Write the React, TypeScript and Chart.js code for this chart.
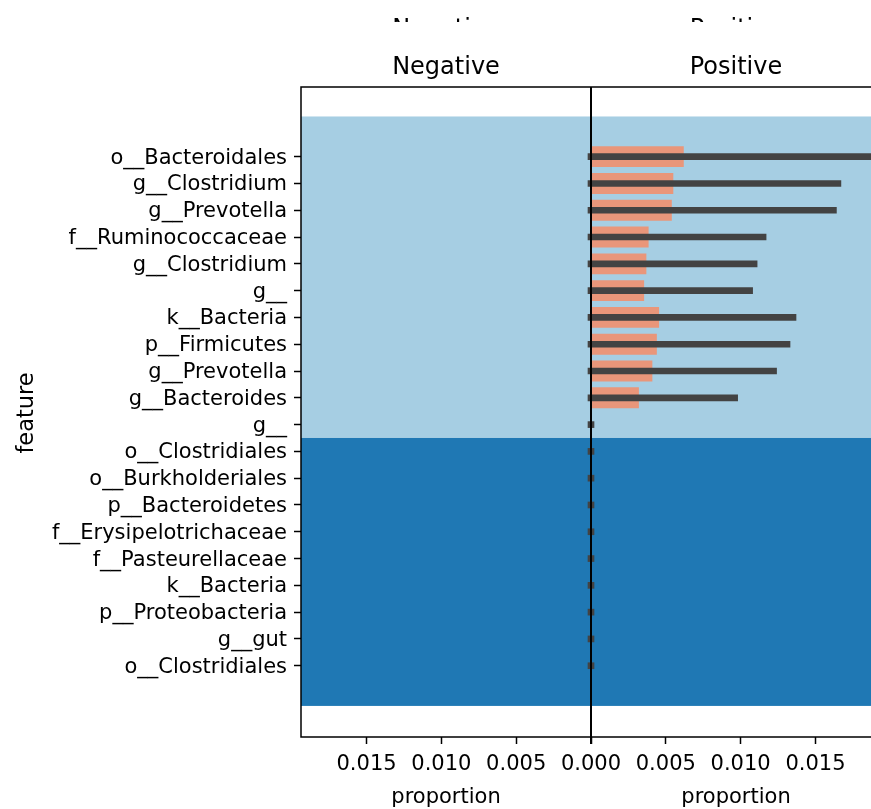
import React, { useEffect, useRef } from 'react';
import { Chart, registerables } from 'chart.js';

Chart.register(...registerables);

const FEATURES = [
  'o__Bacteroidales',
  'g__Clostridium',
  'g__Prevotella',
  'f__Ruminococcaceae',
  'g__Clostridium',
  'g__',
  'k__Bacteria',
  'p__Firmicutes',
  'g__Prevotella',
  'g__Bacteroides',
  'g__',
  'o__Clostridiales',
  'o__Burkholderiales',
  'p__Bacteroidetes',
  'f__Erysipelotrichaceae',
  'f__Pasteurellaceae',
  'k__Bacteria',
  'p__Proteobacteria',
  'g__gut',
  'o__Clostridiales',
];

const MEAN_POSITIVE = [
  0.0062, 0.0055, 0.0054, 0.00385, 0.0037, 0.00355, 0.00455, 0.0044, 0.0041, 0.0032,
  0, 0, 0, 0, 0, 0, 0, 0, 0, 0,
];

const CI_LOW = [
  -0.0002, -0.0002, -0.0002, -0.0002, -0.0002, -0.0002, -0.0002, -0.0002, -0.0002, -0.0002,
  -0.0002, -0.0002, -0.0002, -0.0002, -0.0002, -0.0002, -0.0002, -0.0002, -0.0002, -0.0002,
];

const CI_HIGH = [
  0.019, 0.0167, 0.0164, 0.0117, 0.0111, 0.0108, 0.0137, 0.0133, 0.0124, 0.0098,
  0.0002, 0.0002, 0.0002, 0.0002, 0.0002, 0.0002, 0.0002, 0.0002, 0.0002, 0.0002,
];

const X_TICKS = [-0.015, -0.01, -0.005, 0, 0.005, 0.01, 0.015];
const X_LIMIT = 0.01938;
const PANEL_TITLES = ['Negative', 'Positive'];
const X_LABEL = 'proportion';
const Y_LABEL = 'feature';
const BAND_EDGES = [-1.5, 10.5, 20.5];
const BAND_COLORS = ['#a6cee3', '#1f78b4'];

const FONT = '"DejaVu Sans", sans-serif';

const decorPlugin = {
  id: 'decor',
  beforeDatasetsDraw(chart: any) {
    const { ctx, chartArea: a, scales } = chart;
    const y = scales.y;
    ctx.save();
    for (let i = 0; i < BAND_COLORS.length; i++) {
      const t = y.getPixelForValue(BAND_EDGES[i]);
      const b = y.getPixelForValue(BAND_EDGES[i + 1]);
      ctx.fillStyle = BAND_COLORS[i];
      ctx.fillRect(a.left, t, a.right - a.left, b - t);
    }
    ctx.restore();
  },
  afterDatasetsDraw(chart: any) {
    const { ctx, chartArea: a, scales } = chart;
    const x = scales.x;
    const x0 = x.getPixelForValue(0);
    ctx.save();
    ctx.strokeStyle = '#000';
    ctx.lineWidth = 2;
    ctx.beginPath();
    ctx.moveTo(x0, a.top);
    ctx.lineTo(x0, a.bottom + 7);
    ctx.stroke();
    ctx.lineWidth = 1.5;
    ctx.beginPath();
    ctx.moveTo(a.right + 1, a.top);
    ctx.lineTo(a.left, a.top);
    ctx.lineTo(a.left, a.bottom);
    ctx.lineTo(a.right + 1, a.bottom);
    ctx.stroke();
    ctx.restore();
  },
  afterDraw(chart: any) {
    const { ctx, chartArea: a, scales } = chart;
    const x = scales.x;
    const x0 = x.getPixelForValue(0);
    const centers = [(a.left + x0) / 2, (x0 + a.right) / 2];
    ctx.save();
    ctx.fillStyle = '#000';
    ctx.textAlign = 'center';
    ctx.textBaseline = 'alphabetic';
    ctx.font = `24px ${FONT}`;
    centers.forEach((cx, i) => {
      ctx.fillText(PANEL_TITLES[i], cx, 74);
    });
    ctx.save();
    ctx.beginPath();
    ctx.rect(0, 0, chart.width, 22);
    ctx.clip();
    centers.forEach((cx, i) => {
      ctx.fillText(PANEL_TITLES[i], cx, 36);
    });
    ctx.restore();
    ctx.font = `21px ${FONT}`;
    centers.forEach((cx) => {
      ctx.fillText(X_LABEL, cx, 803);
    });
    ctx.save();
    ctx.font = `22.5px ${FONT}`;
    ctx.translate(33, 413);
    ctx.rotate(-Math.PI / 2);
    ctx.fillText(Y_LABEL, 0, 0);
    ctx.restore();
    ctx.restore();
  },
};

export default function App() {
  const ref = useRef<HTMLCanvasElement | null>(null);

  useEffect(() => {
    if (!ref.current) return;
    const chart = new Chart(ref.current, {
      type: 'bar',
      data: {
        datasets: [
          {
            label: 'ci',
            data: FEATURES.map((_, i) => ({ x: [CI_LOW[i], CI_HIGH[i]], y: i })) as any,
            backgroundColor: '#434343',
            borderWidth: 0,
            barThickness: 6,
            grouped: false,
            order: 1,
          } as any,
          {
            label: 'mean',
            data: FEATURES.map((_, i) => ({ x: MEAN_POSITIVE[i], y: i })) as any,
            backgroundColor: '#e9967a',
            borderWidth: 0,
            barPercentage: 0.78,
            categoryPercentage: 1,
            grouped: false,
            order: 2,
          } as any,
        ],
      },
      options: {
        indexAxis: 'y',
        animation: false,
        responsive: false,
        devicePixelRatio: 1,
        layout: { padding: { top: 87, right: 1, left: 0, bottom: 0 } },
        plugins: {
          legend: { display: false },
          tooltip: { enabled: false },
          title: { display: false },
        },
        scales: {
          x: {
            type: 'linear',
            position: 'bottom',
            min: -X_LIMIT,
            max: X_LIMIT,
            offset: false,
            afterBuildTicks: (scale: any) => {
              scale.ticks = X_TICKS.map((v) => ({ value: v }));
            },
            afterFit: (scale: any) => {
              scale.height = 72;
            },
            ticks: {
              autoSkip: false,
              maxRotation: 0,
              padding: 8,
              color: '#000',
              font: { family: FONT, size: 21 },
              callback: (v: any) => Math.abs(Number(v)).toFixed(3),
            },
            grid: {
              offset: false,
              drawOnChartArea: false,
              drawTicks: true,
              tickLength: 7,
              tickColor: '#000',
              tickWidth: 1.5,
            },
            border: { display: false },
          },
          y: {
            type: 'linear',
            position: 'left',
            reverse: true,
            offset: false,
            min: -2.6,
            max: 21.66,
            afterBuildTicks: (scale: any) => {
              scale.ticks = FEATURES.map((_, i) => ({ value: i }));
            },
            afterFit: (scale: any) => {
              scale.width = 301;
            },
            ticks: {
              autoSkip: false,
              padding: 7,
              labelOffset: 1.5,
              color: '#000',
              font: { family: FONT, size: 21 },
              callback: (v: any) => FEATURES[Number(v)] ?? '',
            },
            grid: {
              offset: false,
              drawOnChartArea: false,
              drawTicks: true,
              tickLength: 7,
              tickColor: '#000',
              tickWidth: 1.5,
            },
            border: { display: false },
          },
        },
      } as any,
      plugins: [decorPlugin],
    });
    return () => chart.destroy();
  }, []);

  return (
    <div
      style={{
        position: 'absolute',
        left: 0,
        top: 0,
        width: 871,
        height: 809,
        overflow: 'hidden',
        background: '#fff',
      }}
    >
      <canvas ref={ref} width={882} height={809} style={{ display: 'block' }} />
    </div>
  );
}
